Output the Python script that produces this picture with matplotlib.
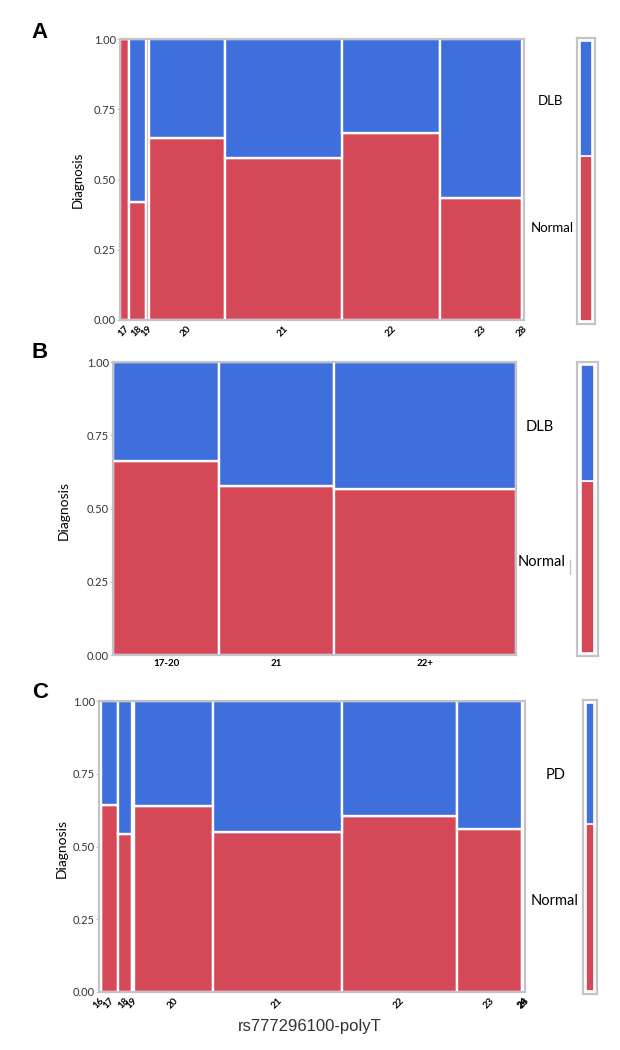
import numpy as np
import matplotlib
matplotlib.use("Agg")
import matplotlib.pyplot as plt

plt.rcParams['font.family'] = ['Lato', 'DejaVu Sans']

#DATOS (anchos = tamano relativo de cada grupo, rojo = fraccion Normal)

categorias_a = ["17", "18", "19", "20", "21", "22", "23", "28"]
anchos_a = [9, 16, 3, 75, 115, 96, 80, 2]
normal_a = [1.0, 0.42, 1.0, 0.647, 0.575, 0.665, 0.433, 1.0]
total_normal_a = 0.59

categorias_b = ["17-20", "21", "22+"]
anchos_b = [104, 113, 178]
normal_b = [0.662, 0.577, 0.565]
total_normal_b = 0.597

categorias_c = ["16", "17", "18", "19", "20", "21", "22", "23", "24", "28"]
anchos_c = [1.5, 17, 14, 2, 79, 128, 114, 65, 1.5, 1]
normal_c = [0.0, 0.644, 0.544, 1.0, 0.64, 0.55, 0.606, 0.559, 1.0, 1.0]
total_normal_c = 0.58

ROJO = "#d44858"
AZUL = "#3e6fdc"
GRIS = "#c4c4c8"

W, H = 620, 1050
fig = plt.figure(figsize=(W / 100, H / 100), dpi=100)


def caja(x0, y0, x1, y1):
    # pixeles -> fraccion de figura
    return [x0 / W, 1 - y1 / H, (x1 - x0) / W, (y1 - y0) / H]


def mosaico(ax, cats, anchos, normal, rot, fs_tick):
    anchos = np.array(anchos, dtype=float)
    izq = np.concatenate([[0], np.cumsum(anchos)[:-1]])
    normal = np.array(normal)
    ax.bar(izq, normal, width=anchos, align="edge", color=ROJO,
           edgecolor="white", linewidth=1.7)
    ax.bar(izq, 1 - normal, bottom=normal, width=anchos, align="edge",
           color=AZUL, edgecolor="white", linewidth=1.7)
    ax.set_xlim(0, anchos.sum())
    ax.set_ylim(0, 1)
    ax.set_yticks([0, 0.25, 0.5, 0.75, 1.0])
    ax.set_yticklabels(["0.00", "0.25", "0.50", "0.75", "1.00"],
                       fontsize=8, color="#333333")
    ax.set_xticks(izq + anchos / 2)
    if rot:
        ax.set_xticklabels(cats, rotation=45, ha="right", va="top",
                           rotation_mode="anchor", fontsize=fs_tick,
                           fontweight="bold")
    else:
        ax.set_xticklabels(cats, fontsize=fs_tick, fontweight="bold")
    ax.tick_params(axis="x", length=0, pad=3)
    ax.tick_params(axis="y", length=2, color=GRIS, pad=1)
    for s in ax.spines.values():
        s.set_color(GRIS)
        s.set_linewidth(1.6)


def barra_lateral(ax, p):
    ax.bar([0.5], [p], width=0.62, color=ROJO, edgecolor="white", linewidth=1.2)
    ax.bar([0.5], [1 - p], bottom=[p], width=0.62, color=AZUL,
           edgecolor="white", linewidth=1.2)
    ax.set_xlim(0, 1)
    ax.set_ylim(-0.012, 1.012)
    ax.set_xticks([])
    ax.set_yticks([])
    for s in ax.spines.values():
        s.set_color(GRIS)
        s.set_linewidth(1.6)


#PANEL A
ax_a = fig.add_axes(caja(120, 39, 524, 320))
mosaico(ax_a, categorias_a, anchos_a, normal_a, True, 7)
ax_la = fig.add_axes(caja(577, 38, 595, 324))
barra_lateral(ax_la, total_normal_a)
fig.text(40 / W, 1 - 32 / H, "A", fontsize=16, fontweight="bold",
         family="Liberation Sans", ha="center", va="center")
fig.text(78 / W, 1 - 180 / H, "Diagnosis", rotation=90, fontsize=9.5,
         ha="center", va="center")
fig.text(550 / W, 1 - 101 / H, "DLB", fontsize=9.5, ha="center", va="center")
fig.text(552 / W, 1 - 228 / H, "Normal", fontsize=9.5, ha="center", va="center")

#PANEL B
ax_b = fig.add_axes(caja(113, 362, 516, 655))
mosaico(ax_b, categorias_b, anchos_b, normal_b, False, 7)
ax_lb = fig.add_axes(caja(577, 362, 598, 656))
barra_lateral(ax_lb, total_normal_b)
fig.text(40 / W, 1 - 352 / H, "B", fontsize=16, fontweight="bold",
         family="Liberation Sans", ha="center", va="center")
fig.text(64 / W, 1 - 510 / H, "Diagnosis", rotation=90, fontsize=10,
         ha="center", va="center")
fig.text(540 / W, 1 - 427 / H, "DLB", fontsize=10.5, ha="center", va="center")
fig.text(542 / W, 1 - 562 / H, "Normal", fontsize=10.5, ha="center", va="center")
fig.lines.append(plt.Line2D([570 / W, 570 / W], [1 - 560 / H, 1 - 574 / H],
                            transform=fig.transFigure, color=GRIS, lw=1))

#PANEL C
ax_c = fig.add_axes(caja(99, 701, 525, 992))
mosaico(ax_c, categorias_c, anchos_c, normal_c, True, 7)
ax_lc = fig.add_axes(caja(583, 700, 597, 994))
barra_lateral(ax_lc, total_normal_c)
fig.text(40 / W, 1 - 692 / H, "C", fontsize=16, fontweight="bold",
         family="Liberation Sans", ha="center", va="center")
fig.text(62 / W, 1 - 848 / H, "Diagnosis", rotation=90, fontsize=10,
         ha="center", va="center")
fig.text(556 / W, 1 - 775 / H, "PD", fontsize=10.5, ha="center", va="center")
fig.text(555 / W, 1 - 901 / H, "Normal", fontsize=10.5, ha="center", va="center")
fig.text(310 / W, 1 - 1027 / H, "rs777296100-polyT", fontsize=12,
         family="Liberation Sans", ha="center", va="center", color="#333333")

plt.savefig("out.png", dpi=100)
